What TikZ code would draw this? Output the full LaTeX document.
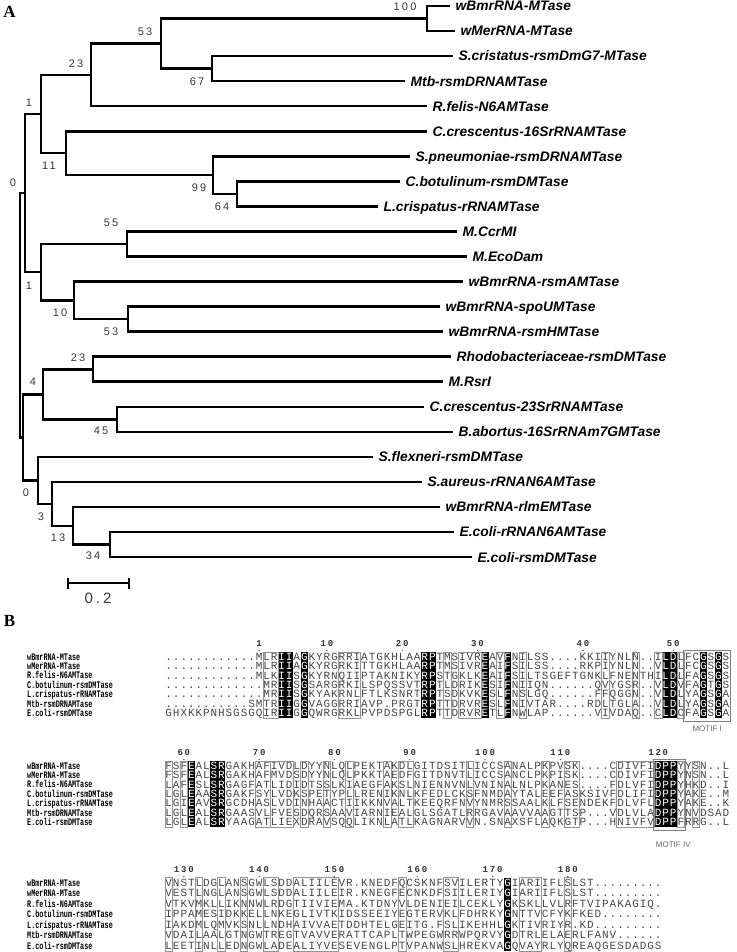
\documentclass[tikz,border=0pt]{standalone}
\usepackage{graphicx}
\usepackage{fontspec}
\setmainfont{Liberation Serif}
\newfontfamily\leaffont{Liberation Sans}
\newfontfamily\bsfont[LetterSpace=20]{Liberation Sans}
\newfontfamily\seqfont{Liberation Mono}
\newfontfamily\rulfont[LetterSpace=20]{Liberation Mono}
\tikzset{
 br/.style={line width=2.6pt, line join=miter, draw=black},
 leaf/.style={anchor=base west, inner sep=0pt, font=\leaffont\bfseries\itshape\fontsize{13.8}{14}\selectfont, text=black},
 bs/.style={inner sep=0pt, font=\bsfont\fontsize{11}{11}\selectfont, text=black!78},
 res/.style={anchor=base, inner sep=0pt, font=\seqfont\fontsize{11}{11}\selectfont, text=black!72},
 seqname/.style={anchor=base west, inner sep=0pt, font=\seqfont\bfseries\fontsize{10}{10}\selectfont, text=black},
 rul/.style={inner sep=0pt, font=\rulfont\bfseries\fontsize{9}{9}\selectfont, text=black!80},
 framec/.style={draw=black!42, line width=0.7pt},
 motifbox/.style={draw=black!50, line width=0.9pt},
 motif/.style={inner sep=0pt, font=\leaffont\fontsize{8}{8}\selectfont, text=black!60},
 panel/.style={inner sep=0pt, font=\bfseries\fontsize{17}{17}\selectfont},
}
\makeatletter
\newcount\sqcol
\newcommand\sqrow[6]{%
  \global\sqcol=0\relax
  \def\sq@y{#1}\def\sq@dy{#2}\def\sq@ids{#3}\def\sq@id{#4}%
  \node[seqname] (#4name) at (27,{#1+3}) {\scalebox{0.68}[1]{#5}};%
  \sq@loop#6\relax}
\def\sq@loop#1{%
  \ifx#1\relax\expandafter\@gobble\else\expandafter\@firstofone\fi
  {\sq@cell#1\sq@loop}}
\def\sq@cell#1{%
  \global\advance\sqcol by 1\relax
  \edef\sq@c{\the\sqcol}%
  \edef\sq@do{\noexpand\in@{,\sq@c,}{\sq@ids}}\sq@do
  \ifin@
    \fill[black] ({165+(\sq@c-1)*7.53},{\sq@y-\sq@dy/2}) rectangle ++(7.53,\sq@dy);
    \node[res,text=white] (\sq@id c\sq@c) at ({165+(\sq@c-0.5)*7.53},{\sq@y+3.2}) {#1};
  \else
    \node[res] (\sq@id c\sq@c) at ({165+(\sq@c-0.5)*7.53},{\sq@y+3.2}) {#1};
  \fi}
\makeatother
\newcommand\sqframe[4]{%
  \draw[framec] ({165+(#1-1)*7.53},{#3-#4/2}) rectangle ({165+#2*7.53},{#3+6.5*#4});}
\begin{document}
\begin{tikzpicture}[x=1pt,y=-1pt]
\fill[white] (0,0) rectangle (736,952);
\useasboundingbox (0,0) rectangle (736,952);
% ---------------- Panel A ----------------
\node[panel] (pA) at (9.5,12) {A};
% leaf ends
\coordinate (e1) at (450,6);
\coordinate (e2) at (455,31.05);
\coordinate (e3) at (453,56.1);
\coordinate (e4) at (405,81.15);
\coordinate (e5) at (427,106.2);
\coordinate (e6) at (427,131.25);
\coordinate (e7) at (410,156.3);
\coordinate (e8) at (400,181.35);
\coordinate (e9) at (378,206.4);
\coordinate (e10) at (457,231.45);
\coordinate (e11) at (467,256.5);
\coordinate (e12) at (463,281.55);
\coordinate (e13) at (440,306.6);
\coordinate (e14) at (443,331.65);
\coordinate (e15) at (451,356.7);
\coordinate (e16) at (443,381.75);
\coordinate (e17) at (424,406.8);
\coordinate (e18) at (453,431.85);
\coordinate (e19) at (373,456.9);
\coordinate (e20) at (422,481.95);
\coordinate (e21) at (440,507);
\coordinate (e22) at (454,532.05);
\coordinate (e23) at (472,557.1);
% internal nodes
\coordinate (root) at (20,315.2);
\coordinate (n0a) at (25,193.1);
\coordinate (nx) at (23,437.3);
\coordinate (n1a) at (41,114.05);
\coordinate (n1b) at (41,272.15);
\coordinate (n23) at (91,74.9);
\coordinate (n11) at (66,153.2);
\coordinate (n53) at (161,43.55);
\coordinate (n100) at (427,18.5);
\coordinate (n67) at (212,68.6);
\coordinate (n99) at (213,175.1);
\coordinate (n64) at (237,193.9);
\coordinate (n55) at (127,244);
\coordinate (n10) at (74,300.3);
\coordinate (n53b) at (128,319.1);
\coordinate (n4) at (43,394.25);
\coordinate (n23b) at (93,369.2);
\coordinate (n45) at (117,419.3);
\coordinate (n0b) at (38,480.4);
\coordinate (n3) at (52,503.9);
\coordinate (n13) at (73,525.8);
\coordinate (n34) at (110,544.6);
% branches
\draw[br] (root) |- (n0a) (root) |- (nx);
\draw[br] (n0a) |- (n1a) (n0a) |- (n1b);
\draw[br] (n1a) |- (n23) (n1a) |- (n11);
\draw[br] (n23) |- (n53) (n23) |- (e5);
\draw[br] (n53) |- (n100) (n53) |- (n67);
\draw[br] (n100) |- (e1) (n100) |- (e2);
\draw[br] (n67) |- (e3) (n67) |- (e4);
\draw[br] (n11) |- (e6) (n11) |- (n99);
\draw[br] (n99) |- (e7) (n99) |- (n64);
\draw[br] (n64) |- (e8) (n64) |- (e9);
\draw[br] (n1b) |- (n55) (n1b) |- (n10);
\draw[br] (n55) |- (e10) (n55) |- (e11);
\draw[br] (n10) |- (e12) (n10) |- (n53b);
\draw[br] (n53b) |- (e13) (n53b) |- (e14);
\draw[br] (nx) |- (n4) (nx) |- (n0b);
\draw[br] (n4) |- (n23b) (n4) |- (n45);
\draw[br] (n23b) |- (e15) (n23b) |- (e16);
\draw[br] (n45) |- (e17) (n45) |- (e18);
\draw[br] (n0b) |- (e19) (n0b) |- (n3);
\draw[br] (n3) |- (e20) (n3) |- (n13);
\draw[br] (n13) |- (e21) (n13) |- (n34);
\draw[br] (n34) |- (e22) (n34) |- (e23);
% leaf labels
\node[leaf] (l1) at ([xshift=5.5pt,yshift=-4.9pt]e1) {wBmrRNA-MTase};
\node[leaf] (l2) at ([xshift=5.5pt,yshift=-4.9pt]e2) {wMerRNA-MTase};
\node[leaf] (l3) at ([xshift=5.5pt,yshift=-4.9pt]e3) {S.cristatus-rsmDmG7-MTase};
\node[leaf] (l4) at ([xshift=5.5pt,yshift=-4.9pt]e4) {Mtb-rsmDRNAMTase};
\node[leaf] (l5) at ([xshift=5.5pt,yshift=-4.9pt]e5) {R.felis-N6AMTase};
\node[leaf] (l6) at ([xshift=5.5pt,yshift=-4.9pt]e6) {C.crescentus-16SrRNAMTase};
\node[leaf] (l7) at ([xshift=5.5pt,yshift=-4.9pt]e7) {S.pneumoniae-rsmDRNAMTase};
\node[leaf] (l8) at ([xshift=5.5pt,yshift=-4.9pt]e8) {C.botulinum-rsmDMTase};
\node[leaf] (l9) at ([xshift=5.5pt,yshift=-4.9pt]e9) {L.crispatus-rRNAMTase};
\node[leaf] (l10) at ([xshift=5.5pt,yshift=-4.9pt]e10) {M.CcrMI};
\node[leaf] (l11) at ([xshift=5.5pt,yshift=-4.9pt]e11) {M.EcoDam};
\node[leaf] (l12) at ([xshift=5.5pt,yshift=-4.9pt]e12) {wBmrRNA-rsmAMTase};
\node[leaf] (l13) at ([xshift=5.5pt,yshift=-4.9pt]e13) {wBmrRNA-spoUMTase};
\node[leaf] (l14) at ([xshift=5.5pt,yshift=-4.9pt]e14) {wBmrRNA-rsmHMTase};
\node[leaf] (l15) at ([xshift=5.5pt,yshift=-4.9pt]e15) {Rhodobacteriaceae-rsmDMTase};
\node[leaf] (l16) at ([xshift=5.5pt,yshift=-4.9pt]e16) {M.RsrI};
\node[leaf] (l17) at ([xshift=5.5pt,yshift=-4.9pt]e17) {C.crescentus-23SrRNAMTase};
\node[leaf] (l18) at ([xshift=5.5pt,yshift=-4.9pt]e18) {B.abortus-16SrRNAm7GMTase};
\node[leaf] (l19) at ([xshift=5.5pt,yshift=-4.9pt]e19) {S.flexneri-rsmDMTase};
\node[leaf] (l20) at ([xshift=5.5pt,yshift=-4.9pt]e20) {S.aureus-rRNAN6AMTase};
\node[leaf] (l21) at ([xshift=5.5pt,yshift=-4.9pt]e21) {wBmrRNA-rlmEMTase};
\node[leaf] (l22) at ([xshift=5.5pt,yshift=-4.9pt]e22) {E.coli-rRNAN6AMTase};
\node[leaf] (l23) at ([xshift=5.5pt,yshift=-4.9pt]e23) {E.coli-rsmDMTase};
% bootstrap values
\node[bs] (b100) at (405,7) {100};
\node[bs] (b53) at (145,32) {53};
\node[bs] (b67) at (197,82) {67};
\node[bs] (b23) at (76,64) {23};
\node[bs] (b1a) at (29,103) {1};
\node[bs] (b11) at (49,166) {11};
\node[bs] (b99) at (199,188) {99};
\node[bs] (b64) at (222,207) {64};
\node[bs] (b0a) at (13,183) {0};
\node[bs] (b55) at (111,223) {55};
\node[bs] (b1b) at (29,286) {1};
\node[bs] (b10) at (60,313) {10};
\node[bs] (b53b) at (111,332) {53};
\node[bs] (b23b) at (78,358) {23};
\node[bs] (b4) at (33,382) {4};
\node[bs] (b45) at (101,431) {45};
\node[bs] (b0b) at (26,493) {0};
\node[bs] (b3) at (41,517) {3};
\node[bs] (b13) at (58,538) {13};
\node[bs] (b34) at (93,556) {34};
% scale bar
\coordinate (sb1) at (68,583);
\coordinate (sb2) at (129,583);
\draw[line width=2.2pt] (sb1) -- (sb2);
\draw[line width=2.2pt] ([yshift=5.5pt]sb1) -- ([yshift=-5.5pt]sb1);
\draw[line width=2.2pt] ([yshift=5.5pt]sb2) -- ([yshift=-5.5pt]sb2);
\node[bs, font=\bsfont\fontsize{15}{15}\selectfont] (sbl) at (98,598) {0.2};
% ---------------- Panel B ----------------
\node[panel] (pB) at (9.5,621) {B};
% block 1
\foreach \n/\c in {1/13,10/22,20/32,30/42,40/56,50/68}{
  \node[rul] (ra\n) at ({165+(\c-0.5)*7.53},644) {\n};
  \fill[black!70] ({165+(\c-0.5)*7.53},650.5) circle (0.7);}
\sqrow{657}{9.4}{,16,17,19,35,36,43,46,67,68,72,74,}{a0}{wBmrRNA-MTase}{............MLRIIAGKYRGRRIATGKHLAARPTMSIVREAVFNILSS....KKIIYNLN..ILDLFCGSGS}
\sqrow{666.4}{9.4}{,16,17,19,35,36,43,46,67,68,72,74,}{a1}{wMerRNA-MTase}{............MLRIIAGKYRGRKITTGKHLAARPTMSIVREAIFSILSS....RKPIYNLN..VLDLFCGSGS}
\sqrow{675.8}{9.4}{,16,17,19,35,36,43,46,67,68,72,74,}{a2}{R.felis-N6AMTase}{............MLKIISGKYRNQIIPTAKNIKYRPSTGKLKEAIFSILTSGEFTGNKLFNENTHILDLFAGSGS}
\sqrow{685.2}{9.4}{,16,17,19,35,36,43,46,67,68,72,74,}{a3}{C.botulinum-rsmDMTase}{.............MRIISGSARGRKILSPQSSVTRPTLDRIKESIFNIIQN......QVYGSR..VLDVFAGTGS}
\sqrow{694.6}{9.4}{,16,17,19,35,36,43,46,67,68,72,74,}{a4}{L.crispatus-rRNAMTase}{.............MRIISGKYAKRNLFTLKSNRTRPTSDKVKESLFNSLGQ......FFQGGN..VLDLYAGSGA}
\sqrow{704.0}{9.4}{,16,17,19,35,36,43,46,67,68,72,74,}{a5}{Mtb-rsmDRNAMTase}{...........SMTRIIGGVAGGRRIAVP.PRGTRPTTDRVRESLFNIVTAR....RDLTGLA..VLDLYAGSGA}
\sqrow{713.4}{9.4}{,16,17,19,35,36,43,46,67,68,72,74,}{a6}{E.coli-rsmDMTase}{GHXKKPNHSGSGQIRIIGGQWRGRKLPVPDSPGLRPTTDRVRETLFNWLAP......VIVDAQ..CLDCFAGSGA}
\foreach \a/\b in {14/15,24/26,38/38,40/42,45/45,48/48,59/59,63/63,66/66,69/69}{\sqframe{\a}{\b}{657}{9.4}}
\draw[motifbox] ({165+69*7.53-1},{657-4.7-2}) rectangle ({165+75*7.53+1},{713.4+4.7+3});
\node[motif] (m1) at ({165+72*7.53},729) {MOTIF I};
% block 2
\foreach \n/\c in {60/3,70/13,80/23,90/33,100/43,110/53,120/66}{
  \node[rul] (rb\n) at ({165+(\c-0.5)*7.53},753) {\n};
  \fill[black!70] ({165+(\c-0.5)*7.53},759.5) circle (0.7);}
\sqrow{766}{9.4}{,4,7,8,66,67,68,}{b0}{wBmrRNA-MTase}{FSFEALSRGAKHAFIVDLDYYNLQLPEKTAKDLGITDSITLICCSANALPKPVSK....CDIVFIDPPYYSN..L}
\sqrow{775.4}{9.4}{,4,7,8,66,67,68,}{b1}{wMerRNA-MTase}{FSFEALSRGAKHAFMVDSDYYNLQLPKKTAEDFGITDNVTLICCSANCLPKPISK....CDIVFIDPPYNSN..L}
\sqrow{784.8}{9.4}{,4,7,8,66,67,68,}{b2}{R.felis-N6AMTase}{LAFESLSRGAGFATLIDIDTSSLKIAEGFAKSLNIENNVNLVNINALNLPKANES....FDLVFIDPPYHKD..I}
\sqrow{794.2}{9.4}{,4,7,8,66,67,68,}{b3}{C.botulinum-rsmDMTase}{LGLEAASRGAKFSYLVDKSPETYPLLRENIKNLKFEDLCKSFNMDAYTALEEFASKSIVFDLIFIDPPYAKE..M}
\sqrow{803.6}{9.4}{,4,7,8,66,67,68,}{b4}{L.crispatus-rRNAMTase}{LGIEAVSRGCDHASLVDINHAACTIIKKNVALTKEEQRFNVYNMRSSAALKLFSENDEKFDLVFLDPPYAKE..K}
\sqrow{813.0}{9.4}{,4,7,8,66,67,68,}{b5}{Mtb-rsmDRNAMTase}{LGLEALSRGAASVLFVESDQRSAAVIARNIEALGLSGATLRRGAVAAVVAAGTTSP...VDLVLADPPYNVDSAD}
\sqrow{822.4}{9.4}{,4,7,8,66,67,68,}{b6}{E.coli-rsmDMTase}{LGLEALSRYAAGATLIEXDRAVSQQLIKNLATLKAGNARVVN.SNAXSFLAQKGTP...HNIVFVDPPFRRG..L}
\foreach \a/\b in {1/1,3/3,13/14,15/17,19/19,22/22,25/25,30/30,32/33,41/41,46/46,51/51,54/55,61/65,69/69,71/71}{\sqframe{\a}{\b}{766}{9.4}}
\draw[motifbox] ({165+65*7.53-1},{766-4.7-2}) rectangle ({165+69*7.53+1},{822.4+4.7+3});
\node[motif] (m4) at ({165+67.5*7.53},845) {MOTIF IV};
% block 3
\foreach \n/\c in {130/3,140/13,150/23,160/34,170/44,180/54}{
  \node[rul] (rc\n) at ({165+(\c-0.5)*7.53},870) {\n};
  \fill[black!70] ({165+(\c-0.5)*7.53},876.5) circle (0.7);}
\sqrow{883}{10.5}{,46,}{c0}{wBmrRNA-MTase}{VNSTLDGLANSGWLSDDALIILEVR.KNEDFQCSKNFSVILERTYGIARIIFLSLST.........}
\sqrow{893.5}{10.5}{,46,}{c1}{wMerRNA-MTase}{VESTLNGLANSGWLSDDALIILEIR.KNEGFECNKDFSIILERIYGIARIIFLSLST.........}
\sqrow{904}{10.5}{,46,}{c2}{R.felis-N6AMTase}{VTKVMKLLIKNNWLRDGTIIVIEMA.KTDNYVLDENIEILCEKLYGKSKLLVLRFTVIPAKAGIQ.}
\sqrow{914.5}{10.5}{,46,}{c3}{C.botulinum-rsmDMTase}{IPPAMESIDKKELLNKEGLIVTKIDSSEEIYEGTERVKLFDHRKYGNTTVCFYKFKED........}
\sqrow{925}{10.5}{,46,}{c4}{L.crispatus-rRNAMTase}{IAKDMLQMVKSNLLNDHAIVVAETDDHTELGEITG.FSLIKEHHLGKTIVRIYR.KD.........}
\sqrow{935.5}{10.5}{,46,}{c5}{Mtb-rsmDRNAMTase}{VDAILAALGTNGWTREGTVAVVERATTCAPLTWPEGWRRWPQRVYGDTRLELAERLFANV......}
\sqrow{946}{10.5}{,46,}{c6}{E.coli-rsmDMTase}{LEETINLLEDNGWLADEALIYVESEVENGLPTVPANWSLHREKVAGQVAYRLYQREAQGESDADGS}
\foreach \a/\b in {1/1,5/5,8/8,11/11,14/15,18/23,32/32,38/39,48/50,54/54}{\sqframe{\a}{\b}{883}{10.5}}
\end{tikzpicture}
\end{document}
